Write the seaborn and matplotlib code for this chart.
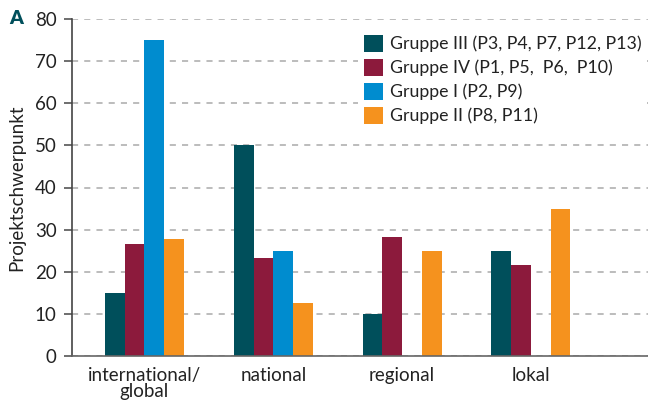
import numpy as np
import pandas as pd
import matplotlib
matplotlib.use('Agg')
import matplotlib.pyplot as plt
import seaborn as sns

# ── data ─────────────────────────────────────────────────────────────────────
categories = ['international/\nglobal', 'national', 'regional', 'lokal']
groups = ['Gruppe III (P3, P4, P7, P12, P13)',
          'Gruppe IV (P1, P5,  P6,  P10)',
          'Gruppe I (P2, P9)',
          'Gruppe II (P8, P11)']
gruppe_iii = [15, 50, 10, 25]
gruppe_iv = [26.7, 23.3, 28.3, 21.7]
gruppe_i = [75, 25, np.nan, np.nan]
gruppe_ii = [27.7, 12.5, 25, 35]

colors = ['#004f5b', '#8c1a3c', '#008ccf', '#f5921e']

rows = []
for g, vals in zip(groups, [gruppe_iii, gruppe_iv, gruppe_i, gruppe_ii]):
    for c, v in zip(categories, vals):
        rows.append({'Kategorie': c, 'Gruppe': g, 'Wert': v})
df = pd.DataFrame(rows)

sns.set_style('white')
plt.rcParams['font.family'] = ['Lato', 'DejaVu Sans']

fig = plt.figure(figsize=(6.48, 4.03), dpi=100)
ax = fig.add_axes([72 / 648, 1 - 356 / 403, 1 - 72 / 648, (356 - 19) / 403])

sns.barplot(data=df, x='Kategorie', y='Wert', hue='Gruppe', order=categories,
            hue_order=groups, palette=colors, width=0.614, gap=0,
            saturation=1, ax=ax, linewidth=0, edgecolor='none',
            err_kws={'linewidth': 0})

ax.set_ylim(0, 80)
ax.set_xlim(-0.563, 3.91)
ax.set_yticks(range(0, 81, 10))
ax.yaxis.grid(True, linestyle=(0, (4, 4)), color='#aaaaaa', linewidth=1.1)
ax.set_axisbelow(True)
for sp in ['top', 'right']:
    ax.spines[sp].set_visible(False)
ax.spines['left'].set_color('#444444')
ax.spines['bottom'].set_color('#666666')
ax.spines['left'].set_linewidth(1.2)
ax.spines['bottom'].set_linewidth(1.2)

ax.tick_params(axis='y', length=6, width=1.2, color='#555555', labelsize=13.5,
               labelcolor='#222222', pad=5, left=True)
ax.tick_params(axis='x', length=0, labelsize=13.5, labelcolor='#222222', pad=8)
for lbl in ax.get_xticklabels():
    lbl.set_linespacing(0.9)

ax.set_xlabel('')
ax.set_ylabel('Projektschwerpunkt', fontsize=13.5, color='#222222', labelpad=7)

leg = ax.legend(loc='upper right', bbox_to_anchor=(1.014, 0.995), frameon=True,
                fontsize=12.8, handlelength=1.1, handleheight=1.1,
                handletextpad=0.4, labelspacing=0.36, borderpad=0.3,
                facecolor='white', edgecolor='white', framealpha=1)
leg.get_frame().set_linewidth(0)
for lbl in leg.get_texts():
    lbl.set_color('#222222')

fig.text(9 / 648, 1 - 18 / 403, 'A', fontsize=14, fontweight='heavy',
         color='#004f5b', va='center', ha='left')

plt.savefig('out.png', dpi=100)
plt.close()
